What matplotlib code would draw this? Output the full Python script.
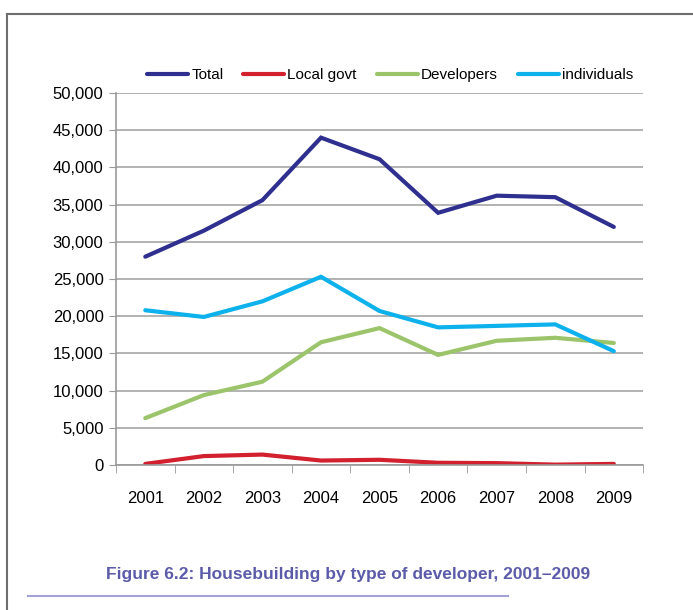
import matplotlib.pyplot as plt
from matplotlib.lines import Line2D
from matplotlib.ticker import FuncFormatter, FixedLocator

plt.rcParams['font.family'] = ['Liberation Sans Narrow', 'Liberation Sans', 'DejaVu Sans']

# Data
years = ['2001', '2002', '2003', '2004', '2005', '2006', '2007', '2008', '2009']
total = [28000, 31500, 35600, 44000, 41100, 33900, 36200, 36000, 32000]
local_govt = [150, 1200, 1400, 600, 700, 300, 250, 50, 150]
developers = [6300, 9400, 11200, 16500, 18400, 14800, 16700, 17100, 16400]
individuals = [20800, 19900, 22000, 25300, 20700, 18500, 18700, 18900, 15300]

series = [
    ('Total', total, '#2e2f8f'),
    ('Local govt', local_govt, '#d2202e'),
    ('Developers', developers, '#9bc46b'),
    ('individuals', individuals, '#0db1ec'),
]

fig = plt.figure(figsize=(6.93, 6.10), dpi=100)
ax = fig.add_axes([0.1674, 0.2377, 0.7606, 0.6098])

x = list(range(len(years)))
for name, vals, col in series:
    ax.plot(x, vals, color=col, lw=3.0, label=name, solid_capstyle='round',
            solid_joinstyle='miter')

ax.set_xlim(-0.5, len(years) - 0.5)
ax.set_ylim(0, 50000)
ax.set_yticks(range(0, 50001, 5000))
ax.yaxis.set_major_formatter(FuncFormatter(lambda v, p: f'{int(v):,}'))
ax.grid(axis='y', color='#a6a6a6', lw=1.2)
ax.set_axisbelow(True)

ax.set_xticks(x)
ax.set_xticklabels(years)
ax.xaxis.set_minor_locator(FixedLocator([i - 0.5 for i in range(len(years) + 1)]))
ax.tick_params(axis='x', which='major', length=0, pad=19, labelsize=12)
ax.tick_params(axis='x', which='minor', length=6, color='#999999', direction='out')
ax.tick_params(axis='y', length=5, color='#999999', labelsize=12, pad=4)

for s in ['top', 'right']:
    ax.spines[s].set_visible(False)
for s in ['left', 'bottom']:
    ax.spines[s].set_color('#999999')
    ax.spines[s].set_linewidth(1.2)

ax.legend(loc='lower center', bbox_to_anchor=(0.52, 1.0), ncol=4, frameon=False,
          fontsize=11, handlelength=2.7, handletextpad=0.2, columnspacing=1.3,
          borderaxespad=0.3)

# outer frame
fig.add_artist(Line2D([7 / 693, 1.0], [1 - 14 / 610, 1 - 14 / 610], color='#6e6e6e', lw=1.5))
fig.add_artist(Line2D([7 / 693, 7 / 693], [1 - 14 / 610, 0.0], color='#6e6e6e', lw=1.5))

# caption and rule
fig.text(348 / 693, 1 - 575 / 610, 'Figure 6.2: Housebuilding by type of developer, 2001\u20132009',
         ha='center', va='center', fontsize=12.5, fontweight='bold', color='#5b5ba9')
fig.add_artist(Line2D([28 / 693, 508 / 693], [1 - 596 / 610, 1 - 596 / 610], color='#a3a3d6', lw=1.5))

fig.savefig('out.png', dpi=100)
